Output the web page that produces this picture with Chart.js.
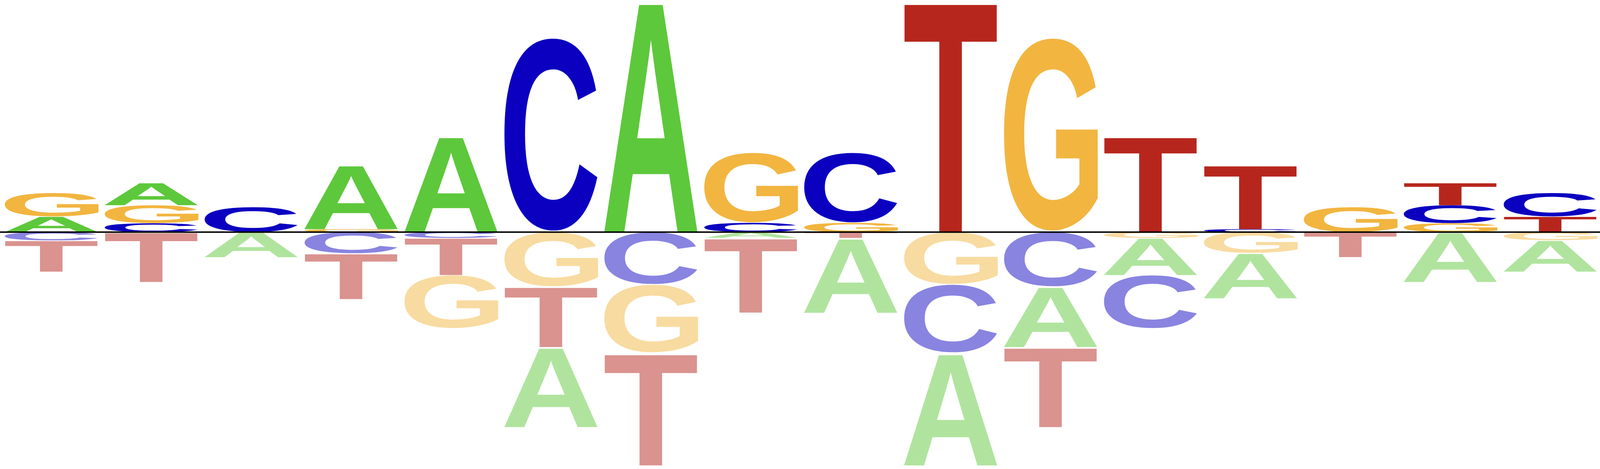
<!DOCTYPE html>
<html>
<head>
<meta charset="utf-8">
<script src="https://cdn.jsdelivr.net/npm/chart.js@4"></script>
<style>
  html, body { margin: 0; padding: 0; background: #fff; overflow: hidden; }
  #wrap { position: relative; width: 100vw; height: 100vh; }
</style>
</head>
<body>
<div id="wrap"><canvas id="logo"></canvas></div>
<script>
// positions of the motif
var positions = ['1','2','3','4','5','6','7','8','9','10','11','12','13','14','15','16'];
// letter heights per position (above the line > 0, below the line < 0)
var A = [0.134, 0.193, -0.216, 0.552, 0.827, -0.69, 2.0, -0.049, -0.645, -0.97, -0.52, -0.32, -0.39, 0, -0.43, -0.27];
var C = [-0.072, 0.077, 0.216, -0.183, -0.05, 1.678, -0.45, 0.08, 0.606, -0.59, -0.47, -0.46, 0.026, 0, 0.155, 0.204];
var G = [0.204, 0.155, 0, 0.026, -0.46, -0.47, -0.59, 0.606, 0.08, -0.45, 1.678, -0.05, -0.18, 0.216, 0.077, -0.07];
var T = [-0.268, -0.43, 0, -0.394, -0.32, -0.52, -0.97, -0.644, -0.05, 2.0, -0.69, 0.827, 0.552, -0.215, 0.193, 0.134];

var letters = ['A','C','G','T'];
var columns = {A: A, C: C, G: G, T: T};
var dark = {A: '#5dc83b', C: '#0b00c0', G: '#f2b540', T: '#b7261c'};
var light = {A: '#b0e49e', C: '#8984e0', G: '#f8dba0', T: '#da938f'};

// one dataset per stack rank, so every column can be stacked smallest first
var datasets = [];
['pos','neg'].forEach(function(side){
  for (var r = 0; r < 4; r++) {
    var vals = [], lets = [];
    positions.forEach(function(p, i){
      var list = letters.map(function(l){ return {l: l, v: columns[l][i]}; })
        .filter(function(o){ return side == 'pos' ? o.v > 0 : o.v < 0; })
        .sort(function(a, b){ return Math.abs(a.v) - Math.abs(b.v); });
      if (list[r]) { vals.push(list[r].v); lets.push(list[r].l); }
      else { vals.push(0); lets.push(null); }
    });
    datasets.push({
      data: vals,
      letters: lets,
      side: side,
      backgroundColor: 'rgba(0,0,0,0)',
      borderWidth: 0,
      stack: 'logo'
    });
  }
});

var glyphFont = 'bold 400px "Liberation Sans", Arial, sans-serif';

var letterPlugin = {
  id: 'letters',
  afterDatasetsDraw: function(chart){
    var ctx = chart.ctx;
    ctx.save();
    ctx.font = glyphFont;
    ctx.textAlign = 'left';
    ctx.textBaseline = 'alphabetic';
    chart.data.datasets.forEach(function(ds, di){
      var meta = chart.getDatasetMeta(di);
      meta.data.forEach(function(bar, i){
        var l = ds.letters[i];
        if (!l || ds.data[i] == 0) return;
        var p = bar.getProps(['x','y','base','width'], true);
        var top = Math.min(p.y, p.base), h = Math.abs(p.base - p.y);
        if (h < 0.3) return;
        var m = ctx.measureText(l);
        var inkW = m.actualBoundingBoxLeft + m.actualBoundingBoxRight;
        var inkH = m.actualBoundingBoxAscent + m.actualBoundingBoxDescent;
        var sx = p.width / inkW, sy = h / inkH;
        ctx.save();
        ctx.translate(p.x - p.width / 2 + m.actualBoundingBoxLeft * sx, top + m.actualBoundingBoxAscent * sy);
        ctx.scale(sx, sy);
        ctx.fillStyle = ds.side == 'pos' ? dark[l] : light[l];
        ctx.fillText(l, 0, 0);
        ctx.restore();
      });
    });
    // the zero line
    var y0 = chart.scales.y.getPixelForValue(0);
    ctx.strokeStyle = '#000';
    ctx.lineWidth = Math.max(1, chart.height * 0.003);
    ctx.beginPath();
    ctx.moveTo(0, y0);
    ctx.lineTo(chart.width, y0);
    ctx.stroke();
    ctx.restore();
  }
};

var chart = new Chart(document.getElementById('logo').getContext('2d'), {
  type: 'bar',
  data: { labels: positions, datasets: datasets },
  options: {
    responsive: true,
    maintainAspectRatio: false,
    animation: false,
    layout: { padding: { left: Math.round(window.innerWidth / 1200), right: 0, top: 0, bottom: 0 } },
    plugins: { legend: { display: false }, tooltip: { enabled: false } },
    datasets: { bar: { categoryPercentage: 1, barPercentage: 0.955 } },
    scales: {
      x: { display: false, stacked: true },
      y: { display: false, stacked: true, min: -2.041, max: 2.0 }
    }
  },
  plugins: [letterPlugin]
});
</script>
</body>
</html>
